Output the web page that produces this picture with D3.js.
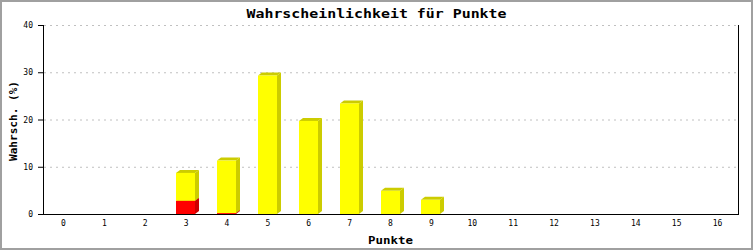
<!DOCTYPE html>
<html>
<head>
<meta charset="utf-8">
<script src="https://cdn.jsdelivr.net/npm/d3@7"></script>
<style>
  html, body { margin: 0; padding: 0; background: #fff; }
  svg { display: block; }
</style>
</head>
<body>
<svg id="chart" width="753" height="250"></svg>
<script>
// Punkte 0..16 and the two stacked series (percent)
const categories = d3.range(0, 17).map(String);
const redValues    = [0, 0, 0, 2.8, 0.2, 0, 0, 0, 0, 0, 0, 0, 0, 0, 0, 0, 0];
const yellowValues = [0, 0, 0, 5.9, 11.1, 29.3, 19.7, 23.4, 4.9, 3.0, 0, 0, 0, 0, 0, 0, 0];
const yTicks = [0, 10, 20, 30, 40];

const titleText = "Wahrscheinlichkeit für Punkte";
const xTitle = "Punkte";
const yTitle = "Wahrsch. (%)";

const W = 753, H = 250;
const plot = { left: 43, right: 738, top: 25, bottom: 214 };
const depthX = 4, depthY = 3;
const mono = "'DejaVu Sans Mono', monospace";

const svg = d3.select("#chart");

// outer frame
svg.append("rect")
  .attr("x", 1).attr("y", 1).attr("width", W - 2).attr("height", H - 2)
  .attr("fill", "#fff").attr("stroke", "#a0a0a0").attr("stroke-width", 2);

const x = d3.scaleBand().domain(categories).range([plot.left, plot.right]);
const y = d3.scaleLinear().domain([0, 40]).range([plot.bottom, plot.top]);

// dotted horizontal grid
svg.append("g").selectAll("line").data(yTicks.filter(d => d > 0)).join("line")
  .attr("x1", plot.left + 1).attr("x2", plot.right)
  .attr("y1", d => y(d) + 0.5).attr("y2", d => y(d) + 0.5)
  .attr("stroke", "#c0c0c0").attr("stroke-width", 1)
  .attr("stroke-dasharray", "2,4");

// stacked 3D bars
const stack = d3.stack().keys(["red", "yellow"])(
  categories.map((c, i) => ({ cat: c, red: redValues[i], yellow: yellowValues[i] }))
);
const colours = {
  red:    { front: "#ff0000", side: "#cc0000" },
  yellow: { front: "#ffff00", side: "#cccc00" }
};
const barW = 19;

const barsG = svg.append("g");
stack.forEach(layer => {
  const col = colours[layer.key];
  layer.forEach(seg => {
    const v = seg[1] - seg[0];
    if (v <= 0) return;
    const cx = x(seg.data.cat) + x.bandwidth() / 2;
    const x0 = Math.round(cx - barW / 2 - 0.5);
    const x1 = x0 + barW;
    const yTop = y(seg[1]);
    const yBot = y(seg[0]);
    const g = barsG.append("g");
    // right side face
    g.append("path")
      .attr("d", `M${x1},${yBot} L${x1},${yTop} L${x1 + depthX},${yTop - depthY} L${x1 + depthX},${yBot - depthY} Z`)
      .attr("fill", col.side);
    // top face
    g.append("path")
      .attr("d", `M${x0},${yTop} L${x0 + depthX},${yTop - depthY} L${x1 + depthX},${yTop - depthY} L${x1},${yTop} Z`)
      .attr("fill", col.side);
    // front face
    g.append("rect")
      .attr("x", x0).attr("y", yTop)
      .attr("width", barW).attr("height", Math.max(yBot - yTop, 0))
      .attr("fill", col.front);
  });
});

// axes
const axisG = svg.append("g").attr("stroke", "#000").attr("stroke-width", 1).attr("fill", "none");
axisG.append("line").attr("x1", plot.left + 0.5).attr("x2", plot.left + 0.5)
  .attr("y1", plot.top).attr("y2", plot.bottom + 0.5);
axisG.append("line").attr("x1", plot.right + 0.5).attr("x2", plot.right + 0.5)
  .attr("y1", plot.top).attr("y2", plot.bottom + 0.5);
axisG.append("line").attr("x1", plot.left).attr("x2", plot.right + 1)
  .attr("y1", plot.bottom + 0.5).attr("y2", plot.bottom + 0.5);

// y ticks + labels
const yAxis = svg.append("g");
yAxis.selectAll("line").data(yTicks).join("line")
  .attr("x1", plot.left - 5).attr("x2", plot.left)
  .attr("y1", d => y(d) + 0.5).attr("y2", d => y(d) + 0.5)
  .attr("stroke", "#000");
yAxis.selectAll("text").data(yTicks).join("text")
  .attr("x", plot.left - 10).attr("y", d => y(d) + 3)
  .attr("text-anchor", "end")
  .attr("font-family", mono).attr("font-size", 8)
  .attr("fill", "#000")
  .text(d => d);

// x tick labels
svg.append("g").selectAll("text").data(categories).join("text")
  .attr("x", d => x(d) + x.bandwidth() / 2)
  .attr("y", plot.bottom + 12)
  .attr("text-anchor", "middle")
  .attr("font-family", mono).attr("font-size", 8)
  .attr("fill", "#000")
  .text(d => d);

// titles
svg.append("text")
  .attr("x", W / 2).attr("y", 18)
  .attr("text-anchor", "middle")
  .attr("font-family", mono).attr("font-size", 13).attr("font-weight", "bold")
  .attr("textLength", 260).attr("lengthAdjust", "spacingAndGlyphs")
  .text(titleText);

svg.append("text")
  .attr("x", (plot.left + plot.right) / 2).attr("y", 244)
  .attr("text-anchor", "middle")
  .attr("font-family", mono).attr("font-size", 11).attr("font-weight", "bold")
  .attr("textLength", 45).attr("lengthAdjust", "spacingAndGlyphs")
  .text(xTitle);

svg.append("text")
  .attr("transform", "translate(17,121) rotate(-90)")
  .attr("text-anchor", "middle")
  .attr("font-family", mono).attr("font-size", 11).attr("font-weight", "bold")
  .attr("textLength", 80).attr("lengthAdjust", "spacingAndGlyphs")
  .text(yTitle);
</script>
</body>
</html>
